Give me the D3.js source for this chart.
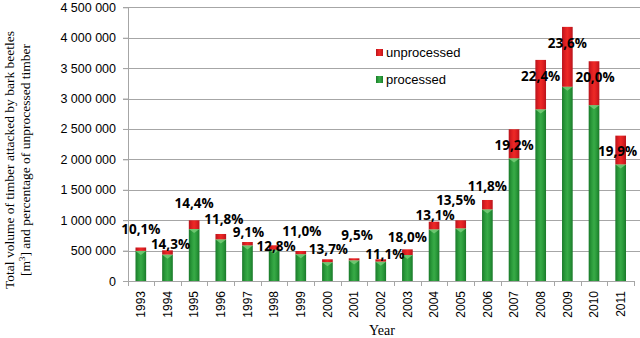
<!DOCTYPE html>
<html>
<head>
<meta charset="utf-8">
<script src="https://cdn.jsdelivr.net/npm/d3@7/dist/d3.min.js"></script>
<style>
  html, body { margin: 0; padding: 0; background: #fff; }
  svg { display: block; }
</style>
</head>
<body>
<svg id="chart" width="640" height="338"></svg>
<script>
// ---- data ----
const years = ["1993","1994","1995","1996","1997","1998","1999","2000","2001","2002",
               "2003","2004","2005","2006","2007","2008","2009","2010","2011"];
const processed = [495000, 433000, 854000, 682000, 583000, 512000, 439000, 308000, 338000, 317000,
                   427000, 847000, 863000, 1175000, 2016000, 2821000, 3192000, 2890000, 1914000];
const unprocessed = [56000, 72000, 144000, 91000, 58000, 75000, 54000, 49000, 35000, 40000,
                     94000, 128000, 135000, 157000, 479000, 814000, 986000, 723000, 476000];
const percentLabels = ["10,1%","14,3%","14,4%","11,8%","9,1%","12,8%","11,0%","13,7%","9,5%","11,1%",
                       "18,0%","13,1%","13,5%","11,8%","19,2%","22,4%","23,6%","20,0%","19,9%"];
const yTicks = [0, 500000, 1000000, 1500000, 2000000, 2500000, 3000000, 3500000, 4000000, 4500000];
const seriesNames = ["unprocessed", "processed"];

// ---- layout (label nudges in px relative to bar centre / bar top) ----
const labelDx = [0, 3, 0, 3, 1, 2, 1, 1, 3, 4, 0, 1, -5, 0, 0, 0, 0, 1, -3];
const labelDy = [-18, -6, -17, -15, -10, 1, -20, -10, -23, -5, -12, -6, -20, -14, 16, 16, 16, 16, 16];

const svg = d3.select("#chart");
const defs = svg.append("defs");

function hGrad(id, edge, mid, center) {
  const g = defs.append("linearGradient").attr("id", id)
    .attr("x1", "0%").attr("x2", "100%").attr("y1", "0%").attr("y2", "0%");
  g.append("stop").attr("offset", "0%").attr("stop-color", edge);
  g.append("stop").attr("offset", "30%").attr("stop-color", mid);
  g.append("stop").attr("offset", "50%").attr("stop-color", center);
  g.append("stop").attr("offset", "70%").attr("stop-color", mid);
  g.append("stop").attr("offset", "100%").attr("stop-color", edge);
}
hGrad("gGreen", "#1a7a2a", "#2c9d3c", "#38aa47");
hGrad("gRed", "#b8141b", "#e11f22", "#ec2a26");

const x = d3.scaleBand().domain(years).range([127.5, 634]).paddingInner(0.6).paddingOuter(0.3);
const y = d3.scaleLinear().domain([0, 4500000]).range([281, 7.3]);

const fmt = d3.formatLocale({ decimal: ",", thousands: " ", grouping: [3], currency: ["", ""] }).format(",d");
const gridColor = "#a6a6a6";

// gridlines
svg.append("g").selectAll("line").data(yTicks.slice(1)).join("line")
  .attr("x1", 123).attr("x2", 640)
  .attr("y1", d => Math.round(y(d)) + 0.5).attr("y2", d => Math.round(y(d)) + 0.5)
  .attr("stroke", gridColor).attr("stroke-width", 1);

// y axis
const yAxis = d3.axisLeft(y).tickValues(yTicks).tickFormat(fmt).tickSize(5).tickPadding(7);
const gy = svg.append("g").attr("transform", "translate(128,0)").call(yAxis);
gy.select(".domain").attr("stroke", gridColor).attr("d", `M0.5,${y(4500000)}V${y(0)}`);
gy.selectAll(".tick line").attr("stroke", gridColor);
gy.selectAll(".tick text").attr("font-family", "'Liberation Sans', Arial, sans-serif")
  .attr("font-size", "12.5px").attr("fill", "#000");

// stacked bars
const stackData = years.map((yr, i) => ({ year: yr, processed: processed[i], unprocessed: unprocessed[i] }));
const stacked = d3.stack().keys(["processed", "unprocessed"])(stackData);
const fills = { processed: "url(#gGreen)", unprocessed: "url(#gRed)" };

svg.append("g").selectAll("g").data(stacked).join("g")
  .attr("fill", s => fills[s.key])
  .selectAll("rect").data(s => s).join("rect")
  .attr("x", d => x(d.data.year))
  .attr("width", x.bandwidth())
  .attr("y", d => y(d[1]))
  .attr("height", d => y(d[0]) - y(d[1]));

// bevel highlight at top of green segments
svg.append("g").selectAll("path").data(stacked[0]).join("path")
  .attr("d", d => {
    const x0 = x(d.data.year), w = x.bandwidth(), t = y(d[1]);
    return `M${x0},${t}L${x0 + w},${t}L${x0 + w / 2},${t + 4}Z`;
  })
  .attr("fill", "#7fd17f").attr("opacity", 0.75);

// x axis line + ticks at band boundaries
const step = x.step();
const xb = years.map(yr => x(yr) - step * x.paddingInner() / 2);
xb.push(x(years[years.length - 1]) + x.bandwidth() + step * x.paddingInner() / 2);
svg.append("line").attr("x1", 127.5).attr("x2", xb[xb.length - 1])
  .attr("y1", 281.5).attr("y2", 281.5).attr("stroke", gridColor);
svg.append("g").selectAll("line").data(xb).join("line")
  .attr("x1", d => Math.round(d) + 0.5).attr("x2", d => Math.round(d) + 0.5)
  .attr("y1", 281).attr("y2", 286).attr("stroke", gridColor);

// x labels
svg.append("g").selectAll("text").data(years).join("text")
  .attr("transform", d => `translate(${x(d) + x.bandwidth() / 2},291) rotate(-90)`)
  .attr("text-anchor", "end").attr("dy", "0.35em")
  .attr("font-family", "'Liberation Sans', Arial, sans-serif").attr("font-size", "12px")
  .attr("fill", "#000").text(d => d);

// percentage labels
svg.append("g").selectAll("text").data(stackData).join("text")
  .attr("x", (d, i) => x(d.year) + x.bandwidth() / 2 + labelDx[i])
  .attr("y", (d, i) => y(d.processed + d.unprocessed) + labelDy[i])
  .attr("dy", "0.35em").attr("text-anchor", "middle")
  .attr("font-family", "'Open Sans', sans-serif").attr("font-weight", "bold")
  .attr("font-size", "13.5px").attr("fill", "#000")
  .text((d, i) => percentLabels[i]);

// legend
const legend = svg.append("g").attr("transform", "translate(376,49)");
const lg = legend.selectAll("g").data(seriesNames).join("g")
  .attr("transform", (d, i) => `translate(0,${i * 27})`);
lg.append("rect").attr("width", 7).attr("height", 7)
  .attr("fill", d => d === "unprocessed" ? "url(#gRed)" : "url(#gGreen)");
lg.append("text").attr("x", 10).attr("y", 3.5).attr("dy", "0.35em")
  .attr("font-family", "'Liberation Sans', Arial, sans-serif").attr("font-size", "13px")
  .attr("fill", "#000").text(d => d);

// axis titles
const yt = svg.append("text")
  .attr("transform", "translate(0,160) rotate(-90)")
  .attr("text-anchor", "middle")
  .attr("font-family", "'Liberation Serif', 'Times New Roman', serif").attr("font-size", "13.5px")
  .attr("fill", "#000");
yt.append("tspan").attr("x", 0).attr("y", 14).text("Total volume of timber attacked by bark beetles");
const l2 = yt.append("tspan").attr("x", 0).attr("y", 30);
l2.append("tspan").text("[m");
l2.append("tspan").attr("font-size", "9px").attr("dy", "-5").text("3");
l2.append("tspan").attr("dy", "5").text("] and percentage of unprocessed timber");

svg.append("text").attr("x", 382).attr("y", 335).attr("text-anchor", "middle")
  .attr("font-family", "'Liberation Serif', 'Times New Roman', serif").attr("font-size", "14px")
  .attr("fill", "#000").text("Year");
</script>
</body>
</html>
